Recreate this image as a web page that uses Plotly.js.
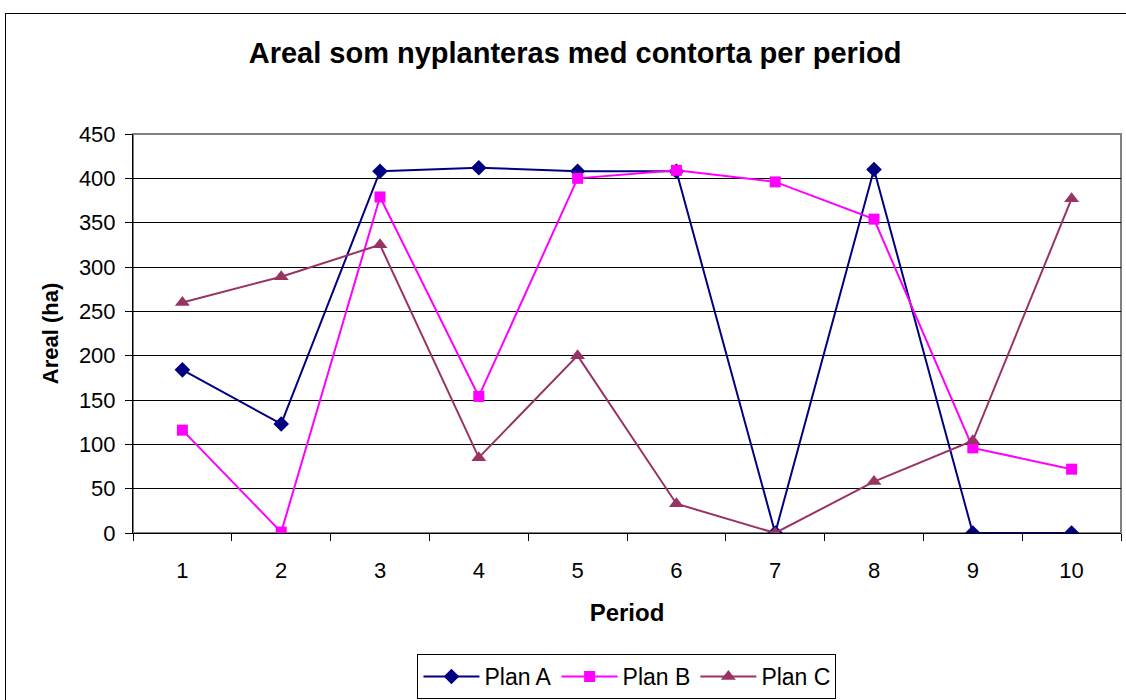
<!DOCTYPE html>
<html>
<head>
<meta charset="utf-8">
<script src="https://cdn.plot.ly/plotly-3.0.1.min.js"></script>
<style>
  html, body { margin: 0; padding: 0; background: #ffffff; overflow: hidden; }
  #frame { position: absolute; left: 5px; top: 13px; width: 1140px; height: 720px; border: 1px solid #000; box-sizing: border-box; }
  #chart { position: absolute; left: 0; top: 0; width: 1126px; height: 700px; }
</style>
</head>
<body>
<div id="frame"></div>
<div id="chart"></div>
<script>
const periods = [1, 2, 3, 4, 5, 6, 7, 8, 9, 10];
const planA = [184, 123, 408, 412, 408, 408, 0, 410, 0, 0];
const planB = [116, 1, 379, 154, 400, 409, 396, 354, 96, 72];
const planC = [260, 289, 325, 85, 200, 33, 0, 58, 104, 377];
const seriesNames = ['Plan A', 'Plan B', 'Plan C'];

const traces = [
  { x: periods, y: planA, name: seriesNames[0], type: 'scatter', mode: 'lines+markers',
    line: { color: '#000080', width: 2 }, marker: { symbol: 'diamond', size: 12, color: '#000080' } },
  { x: periods, y: planB, name: seriesNames[1], type: 'scatter', mode: 'lines+markers',
    line: { color: '#FF00FF', width: 2 }, marker: { symbol: 'square', size: 11, color: '#FF00FF' } },
  { x: periods, y: planC, name: seriesNames[2], type: 'scatter', mode: 'lines+markers',
    line: { color: '#993366', width: 2 }, marker: { symbol: 'triangle-up', size: 13, color: '#993366' } }
];

const layout = {
  width: 1126, height: 700,
  paper_bgcolor: 'rgba(0,0,0,0)', plot_bgcolor: '#ffffff',
  margin: { l: 133, r: 5, t: 134, b: 167 },
  font: { family: 'Liberation Sans, Arial, sans-serif', color: '#000', size: 22 },
  title: { text: '<b>Areal som nyplanteras med contorta per period</b>', x: 0.5107, xref: 'container', xanchor: 'center',
           y: 0.9243, yref: 'container', yanchor: 'middle', font: { size: 29, color: '#000' } },
  xaxis: {
    range: [0.5, 10.5], tickvals: periods, ticktext: periods.map(String), ticks: '',
    showgrid: false, zeroline: false, showline: true, linecolor: '#000', linewidth: 1, mirror: false,
    minor: { ticks: 'outside', tick0: 0.5, dtick: 1, ticklen: 7, tickcolor: '#000', showgrid: false },
    tickfont: { size: 22 }, ticklabelstandoff: 18,
    title: { text: '<b>Period</b>', font: { size: 24 }, standoff: 21 }
  },
  yaxis: {
    range: [0, 450], dtick: 50, ticks: 'outside', ticklen: 7, tickcolor: '#000',
    showgrid: true, gridcolor: '#000', gridwidth: 1, zeroline: false,
    showline: true, linecolor: '#000', linewidth: 1,
    tickfont: { size: 22 }, ticklabelstandoff: 5,
    title: { text: '<b>Areal (ha)</b>', font: { size: 22 }, standoff: 14 }
  },
  shapes: [
    { type: 'rect', xref: 'paper', yref: 'paper', x0: 0, x1: 1, y0: 0, y1: 1, line: { color: '#808080', width: 2 }, layer: 'below' }
  ],
  showlegend: true,
  legend: { orientation: 'h', x: 0.5568, xanchor: 'center', xref: 'container', y: 0.0336, yref: 'container', yanchor: 'middle',
            bordercolor: '#000', borderwidth: 1, bgcolor: '#fff', font: { size: 23 }, itemwidth: 56, traceorder: 'normal' }
};

Plotly.newPlot('chart', traces, layout, { displayModeBar: false, staticPlot: true });
</script>
</body>
</html>
